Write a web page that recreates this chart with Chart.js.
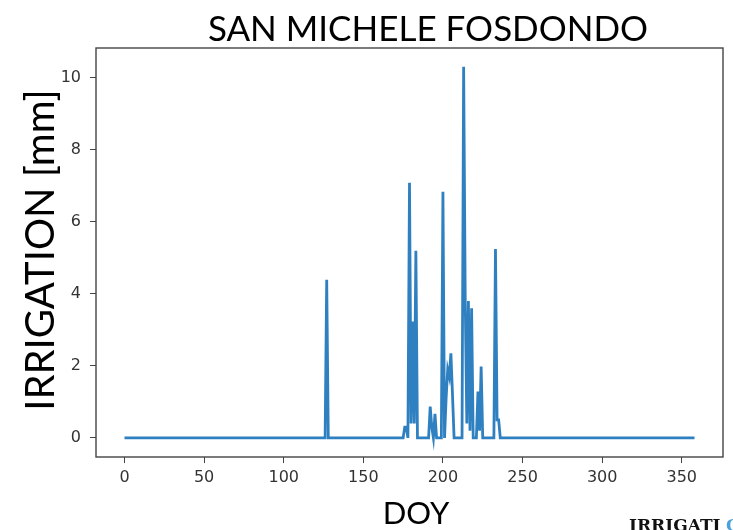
<!DOCTYPE html>
<html>
<head>
<meta charset="utf-8">
<script src="https://cdn.jsdelivr.net/npm/chart.js@4.4.0/dist/chart.umd.min.js"></script>
<style>
  html, body { margin: 0; padding: 0; background: #fff; }
  #wrap { width: 733px; height: 530px; position: relative; }
</style>
</head>
<body>
<div id="wrap"><canvas id="irrigationChart" width="733" height="530"></canvas></div>
<script>
// Day-of-year range of the series
const firstDay = 0;
const lastDay = 358;

// Days with irrigation and the amount (mm); all other days are 0
const eventDays = [127, 176, 177, 179, 180, 181, 182, 183, 192, 193, 195, 200, 202, 203, 204, 205, 206,
    213, 214, 215, 216, 217, 218, 222, 223, 224, 233, 234, 235];
const eventMm = [4.39, 0.3, 0.3, 7.09, 0.4, 3.23, 0.4, 5.2, 0.87, 0.3, 0.67, 6.84, 1.1, 1.9, 1.7, 2.35, 1.2,
    10.31, 3.83, 0.4, 3.8, 0.2, 3.6, 1.29, 0.2, 1.98, 5.25, 0.5, 0.5];

// Tick labels
const xTicks = [0, 50, 100, 150, 200, 250, 300, 350];
const yTicks = [0, 2, 4, 6, 8, 10];

const chartTitle = 'SAN MICHELE FOSDONDO';
const xTitle = 'DOY';
const yTitle = 'IRRIGATION [mm]';

function buildSeries() {
    const points = [];
    for (let d = firstDay; d <= lastDay; d++) {
        const i = eventDays.indexOf(d);
        points.push({ x: d, y: i >= 0 ? eventMm[i] : 0 });
    }
    return points;
}

// Frame round the plot and the big text labels
const decorations = {
    id: 'decorations',
    afterDraw(chart) {
        const { ctx, chartArea: a } = chart;
        ctx.save();
        ctx.strokeStyle = '#444';
        ctx.lineWidth = 1.4;
        ctx.strokeRect(a.left, a.top, a.right - a.left, a.bottom - a.top);

        ctx.fillStyle = '#000';
        ctx.textAlign = 'center';
        ctx.textBaseline = 'alphabetic';
        ctx.font = '35px Lato, "Open Sans", sans-serif';
        ctx.fillText(chartTitle, 428, 41);

        ctx.font = '31px Lato, "Open Sans", sans-serif';
        ctx.fillText(xTitle, 416, 524);

        ctx.translate(54, 250);
        ctx.rotate(-Math.PI / 2);
        ctx.font = '40px Lato, "Open Sans", sans-serif';
        ctx.fillText(yTitle, 0, 0);
        ctx.restore();

        ctx.save();
        ctx.font = 'bold 17px "DejaVu Serif", "Liberation Serif", serif';
        ctx.fillStyle = '#111';
        ctx.textAlign = 'left';
        ctx.fillText('IRRIGATI', 629, 531);
        ctx.fillStyle = '#4aa0d8';
        ctx.fillText('O', 726, 531);
        ctx.restore();
    }
};

const ctx = document.getElementById('irrigationChart').getContext('2d');
new Chart(ctx, {
    type: 'line',
    data: {
        datasets: [{
            data: buildSeries(),
            borderColor: '#2f80c0',
            borderWidth: 2.8,
            pointRadius: 0,
            tension: 0,
            fill: false
        }]
    },
    options: {
        responsive: false,
        animation: false,
        layout: { padding: { top: 48, right: 10, left: 0, bottom: 0 } },
        plugins: {
            legend: { display: false },
            tooltip: { enabled: false }
        },
        scales: {
            x: {
                type: 'linear',
                min: -17.9,
                max: 375.9,
                afterBuildTicks: (axis) => { axis.ticks = xTicks.map(v => ({ value: v })); },
                afterFit: (axis) => { axis.height = 73; },
                grid: { drawOnChartArea: false, drawTicks: true, tickLength: 6, color: '#444' },
                border: { display: false },
                ticks: {
                    color: '#333',
                    font: { family: '"DejaVu Sans", sans-serif', size: 16 },
                    padding: 5,
                    maxRotation: 0
                }
            },
            y: {
                min: -0.53,
                max: 10.83,
                afterBuildTicks: (axis) => { axis.ticks = yTicks.map(v => ({ value: v })); },
                afterFit: (axis) => { axis.width = 96; },
                grid: { drawOnChartArea: false, drawTicks: true, tickLength: 6, color: '#444' },
                border: { display: false },
                ticks: {
                    color: '#333',
                    font: { family: '"DejaVu Sans", sans-serif', size: 16 },
                    padding: 9
                }
            }
        }
    },
    plugins: [decorations]
});
</script>
</body>
</html>
